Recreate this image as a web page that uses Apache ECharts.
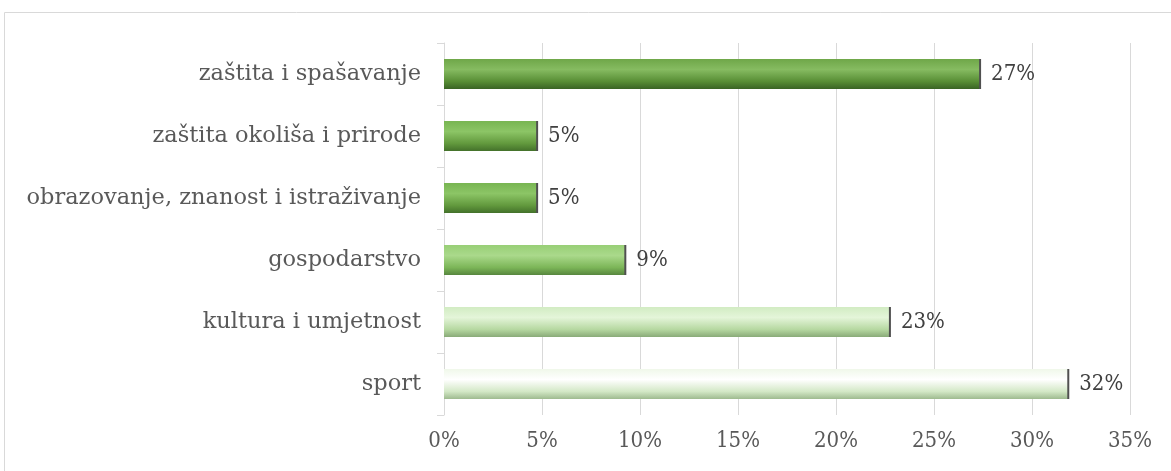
<!DOCTYPE html>
<html><head><meta charset="utf-8">
<script src="https://cdn.jsdelivr.net/npm/echarts@6/dist/echarts.min.js"></script>
<style>html,body{margin:0;padding:0;background:#fff}#c{width:1171px;height:471px}</style>
</head><body><div id="c"></div>
<script>
const categories = ['sport', 'kultura i umjetnost', 'gospodarstvo', 'obrazovanje, znanost i istraživanje', 'zaštita okoliša i prirode', 'zaštita i spašavanje'];
const values = [31.8, 22.7, 9.2, 4.7, 4.7, 27.3];
const tickLabels = ['0%', '5%', '10%', '15%', '20%', '25%', '30%', '35%'];
const palettes = [
  ['#f0f8ea', '#ffffff', '#d3e8c6', '#9fbb90'],
  ['#d2ecc3', '#e4f5d9', '#b6d8a1', '#8aab79'],
  ['#98cf76', '#aad98b', '#7cb658', '#58873f'],
  ['#78b552', '#8cc566', '#62993d', '#44722b'],
  ['#78b552', '#8cc566', '#62993d', '#44722b'],
  ['#6fa749', '#86bb61', '#588e35', '#3a6424']
];
const font = 'DejaVu Serif';
const numFont = '"DejaVu Serif Condensed", "Liberation Serif", serif';
const chart = echarts.init(document.getElementById('c'), null, {renderer: 'canvas'});
chart.setOption({
  animation: false,
  graphic: [{type: 'rect', shape: {x: 4.5, y: 12.5, width: 1300, height: 600}, style: {fill: 'none', stroke: '#d9d9d9', lineWidth: 1}, silent: true}],
  grid: {left: 444, right: 41, top: 43, bottom: 56},
  xAxis: {
    type: 'value', min: 0, max: 35, interval: 5,
    axisLine: {show: false}, axisTick: {show: false},
    splitLine: {lineStyle: {color: '#d9d9d9', width: 1}},
    axisLabel: {margin: 15, color: '#595959', fontFamily: numFont, fontSize: 22,
      formatter: v => tickLabels[Math.round(v / 5)]}
  },
  yAxis: {
    type: 'category', data: categories,
    axisLine: {lineStyle: {color: '#d9d9d9'}},
    axisTick: {show: true, length: 7, lineStyle: {color: '#d9d9d9'}},
    axisLabel: {margin: 23, color: '#595959', fontFamily: font, fontSize: 22.5}
  },
  series: [{
    type: 'bar', barCategoryGap: '52%',
    data: values.map((v, i) => ({
      value: v,
      itemStyle: {
        color: new echarts.graphic.LinearGradient(0, 0, 0, 1, [
          {offset: 0, color: palettes[i][0]},
          {offset: 0.35, color: palettes[i][1]},
          {offset: 0.75, color: palettes[i][2]},
          {offset: 1, color: palettes[i][3]}
        ]),
        shadowColor: '#505050', shadowOffsetX: 2, shadowOffsetY: 0, shadowBlur: 0
      }
    })),
    label: {show: true, position: 'right', distance: 12, color: '#404040', fontFamily: numFont, fontSize: 22,
      formatter: p => Math.round(p.value) + '%'}
  }]
});
</script></body></html>
